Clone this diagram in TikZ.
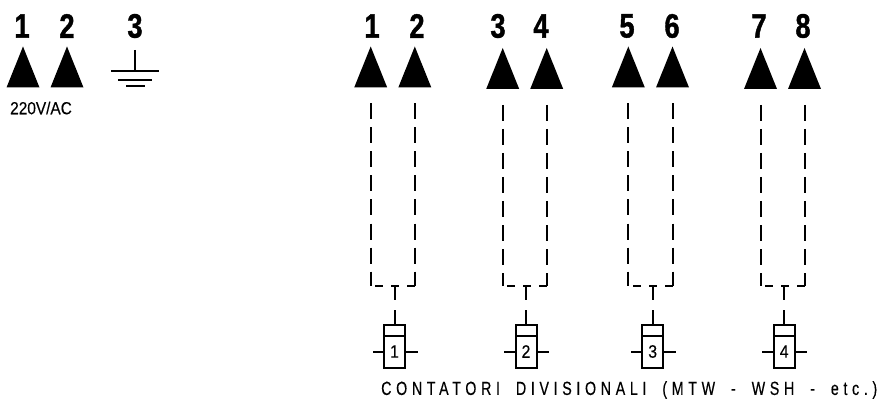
\documentclass[tikz,border=0pt]{standalone}
\usepackage{fontspec}
\usetikzlibrary{shapes.geometric}
\newfontfamily\mynumfont[FakeStretch=0.8,FakeBold=1.2]{Liberation Sans Bold}
\newfontfamily\mysmallfont[FakeStretch=0.88,FakeBold=0.3]{Liberation Sans}
\newfontfamily\mycaptionfont[FakeStretch=0.75,LetterSpace=24.5,WordSpace=1.85,FakeBold=0.3]{Liberation Sans}
\tikzset{
  pinmark/.style={draw=none, fill=black, isosceles triangle, shape border rotate=90, isosceles triangle stretches, minimum width=33pt, minimum height=41pt, inner sep=0pt, outer sep=0pt, anchor=apex},
  pinnum/.style={inner sep=0pt, font=\mynumfont\fontsize{34pt}{34pt}\selectfont},
  vwire/.style={line width=2pt, dash pattern=on 16pt off 8pt, shorten <=16pt},
  hwire/.style={line width=2pt, dash pattern=on 8pt off 8pt},
  stemwire/.style={line width=2pt, dash pattern=on 14pt off 10pt},
  coilhead/.style={draw, line width=2pt, rectangle, minimum width=21pt, minimum height=11pt, inner sep=0pt, outer sep=0pt},
  coilbody/.style={draw, line width=2pt, rectangle, minimum width=21pt, minimum height=32pt, inner sep=0pt, outer sep=0pt, font=\mysmallfont\fontsize{18pt}{18pt}\selectfont},
  coilside/.style={line width=2pt},
  earthline/.style={line width=1.7pt}
}

\begin{document}
\begin{tikzpicture}[x=1pt, y=-1pt]%
\useasboundingbox (0,0) rectangle (882,403);%
\node[pinnum] (mainnuma) at (22,26) {1};%
\node[pinnum] (mainnumb) at (67,26) {2};%
\node[pinnum] (mainnumc) at (135,26) {3};%
\node[pinmark] (mainpina) at (23,46.5) {};%
\node[pinmark] (mainpinb) at (67,46.5) {};%
\node[inner sep=0pt, anchor=west, font=\mysmallfont\fontsize{17.5pt}{17.5pt}\selectfont] (mainvolt) at (10,108) {220V/AC};%
\coordinate (earthtop) at (135,50);%
\coordinate (earthmid) at (135,71);%
\draw[earthline] (earthtop) -- (earthmid);%
\draw[earthline] (111,71) -- (159,71);%
\draw[earthline] (118,79.7) -- (152,79.7);%
\draw[earthline] (126,86.3) -- (145,86.3);%
\node[pinnum] (numa) at (372,26) {1};%
\node[pinnum] (numb) at (417,26) {2};%
\node[pinnum] (numc) at (498,26) {3};%
\node[pinnum] (numd) at (541,26) {4};%
\node[pinnum] (nume) at (627,26) {5};%
\node[pinnum] (numf) at (672,26) {6};%
\node[pinnum] (numg) at (759,26) {7};%
\node[pinnum] (numh) at (803,26) {8};%
\node[pinmark] (pina) at (370.7,46.5) {};%
\node[pinmark] (pinb) at (414.8,46.5) {};%
\node[pinmark] (pinc) at (502.7,48) {};%
\node[pinmark] (pind) at (546.7,48) {};%
\node[pinmark] (pine) at (628.3,46.5) {};%
\node[pinmark] (pinf) at (672.5,46.5) {};%
\node[pinmark] (ping) at (760.5,48) {};%
\node[pinmark] (pinh) at (804.5,48) {};%
\coordinate (cornera) at (pina.lower side |- 0,286);%
\coordinate (cornerb) at (pinb.lower side |- 0,286);%
\coordinate (cornerc) at (pinc.lower side |- 0,286);%
\coordinate (cornerd) at (pind.lower side |- 0,286);%
\coordinate (cornere) at (pine.lower side |- 0,286);%
\coordinate (cornerf) at (pinf.lower side |- 0,286);%
\coordinate (cornerg) at (ping.lower side |- 0,286);%
\coordinate (cornerh) at (pinh.lower side |- 0,286);%
\draw[vwire] (pina.lower side) -- (cornera);%
\draw[vwire] (pinb.lower side) -- (cornerb);%
\draw[vwire] (pinc.lower side) -- (cornerc);%
\draw[vwire] (pind.lower side) -- (cornerd);%
\draw[vwire] (pine.lower side) -- (cornere);%
\draw[vwire] (pinf.lower side) -- (cornerf);%
\draw[vwire] (ping.lower side) -- (cornerg);%
\draw[vwire] (pinh.lower side) -- (cornerh);%
\draw[hwire] (cornerb) -- (cornera);%
\draw[hwire] (cornerd) -- (cornerc);%
\draw[hwire] (cornerf) -- (cornere);%
\draw[hwire] (cornerh) -- (cornerg);%
\node[coilhead] (heada) at (394.5,330) {};%
\node[coilhead] (headb) at (526,330) {};%
\node[coilhead] (headc) at (652.7,330) {};%
\node[coilhead] (headd) at (784.2,330) {};%
\node[coilbody] (coila) at (394.5,351.5) {1};%
\node[coilbody] (coilb) at (526,351.5) {2};%
\node[coilbody] (coilc) at (652.7,351.5) {3};%
\node[coilbody] (coild) at (784.2,351.5) {4};%
\coordinate (teea) at (heada.north |- cornera);%
\coordinate (teeb) at (headb.north |- cornerc);%
\coordinate (teec) at (headc.north |- cornere);%
\coordinate (teed) at (headd.north |- cornerg);%
\draw[stemwire] (teea) -- (heada.north);%
\draw[stemwire] (teeb) -- (headb.north);%
\draw[stemwire] (teec) -- (headc.north);%
\draw[stemwire] (teed) -- (headd.north);%
\draw[coilside] (coila.west) -- +(-11.5,0);%
\draw[coilside] (coila.east) -- +(12.5,0);%
\draw[coilside] (coilb.west) -- +(-11.5,0);%
\draw[coilside] (coilb.east) -- +(12.5,0);%
\draw[coilside] (coilc.west) -- +(-11.5,0);%
\draw[coilside] (coilc.east) -- +(12.5,0);%
\draw[coilside] (coild.west) -- +(-11.5,0);%
\draw[coilside] (coild.east) -- +(12.5,0);%
\node[inner sep=0pt, anchor=west, font=\mycaptionfont\fontsize{19pt}{19pt}\selectfont] (caption) at (381,390) {CONTATORI DIVISIONALI (MTW - WSH - etc.)};%
\end{tikzpicture}
\end{document}
